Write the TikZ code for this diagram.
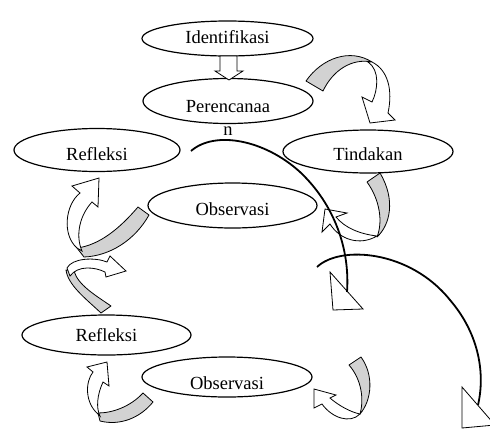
\documentclass[tikz,border=0pt]{standalone}
\usepackage{fontspec}
\setmainfont{Liberation Serif}
\usetikzlibrary{shapes.geometric}
\begin{document}
\begin{tikzpicture}[x=1pt,y=-1pt,
  ell/.style={draw,ellipse,line width=1.2pt,inner sep=0pt},
  tb/.style={text height=#1,text depth=0pt},
  every node/.style={font=\fontsize{18.5}{22}\selectfont},
  greyband/.style={draw,fill=gray!35,line width=0.8pt,line join=round},
  whiteband/.style={draw,fill=white,line width=0.8pt,line join=miter},
  arcline/.style={line width=1.8pt},
  tri/.style={draw,line width=0.8pt,line join=miter}]
\clip (0,0) rectangle (490,429);

% ellipses
\node[ell,minimum width=171pt,minimum height=35pt,tb=9.6pt] (id) at (227.5,38.5) {Identifikasi};
\node[ell,minimum width=170pt,minimum height=45pt,tb=22pt] (pr) at (228,101) {Perencanaa};
\node[anchor=base,inner sep=0pt] (prn) at (228,135) {n};
\node[ell,minimum width=166pt,minimum height=43pt,tb=20pt] (rf1) at (97,150) {Refleksi};
\node[ell,minimum width=170pt,minimum height=43pt,tb=17pt] (td) at (368,151.5) {Tindakan};
\node[ell,minimum width=169pt,minimum height=45pt,tb=19pt] (ob1) at (232.5,205.5) {Observasi};
\node[ell,minimum width=169pt,minimum height=40pt,tb=13.4pt] (rf2) at (106.5,335) {Refleksi};
\node[ell,minimum width=170pt,minimum height=40pt,tb=24pt] (ob2) at (227,377) {Observasi};

% hollow block arrow Identifikasi -> Perencanaa
\draw[whiteband] (220,56) -- (237,56) -- (237,71) -- (243,71) -- (229,80) -- (215,71) -- (220,71) -- cycle;

% A: Perencanaa -> Tindakan
\draw[greyband] (306,81) .. controls (322,58) and (350,48) .. (372,62)
  .. controls (352,58) and (333,70) .. (323,91) -- cycle;
\draw[whiteband] (368,62) .. controls (380,70) and (378,90) .. (372,102)
  -- (362,97) -- (370,123) -- (395,120) -- (388,113)
  .. controls (393,90) and (388,70) .. (372,62) -- cycle;

% B: Tindakan -> Observasi
\draw[greyband] (367,182) .. controls (380,200) and (383,222) .. (377,237)
  .. controls (390,225) and (396,200) .. (380,173) -- cycle;
\draw[whiteband] (377,236) .. controls (360,234) and (345,228) .. (336,217)
  -- (347,213) -- (325,209) -- (322,232) -- (330,224)
  .. controls (340,240) and (360,246) .. (377,236) -- cycle;

% C: Observasi -> Refleksi (top)
\draw[greyband] (138,207) .. controls (120,228) and (100,245) .. (77,248)
  -- (84,257) .. controls (110,256) and (135,240) .. (149,215) -- cycle;
\draw[whiteband] (77,248) .. controls (62,235) and (65,205) .. (80,193)
  -- (72,186) -- (99,178) -- (98,207) -- (92,202)
  .. controls (80,215) and (75,235) .. (82,251) -- cycle;

% D: lower ribbon pointing right
\draw[greyband] (66,270) .. controls (68,285) and (85,298) .. (101,313)
  -- (111,306) .. controls (95,295) and (78,285) .. (74,271) -- cycle;
\draw[whiteband] (67,268) .. controls (72,258) and (95,257) .. (107,262)
  -- (110,256) -- (126,271) -- (106,277) -- (105,272)
  .. controls (95,267) and (78,265) .. (70,276) -- cycle;

% E: Observasi (bottom) -> Refleksi (bottom)
\draw[greyband] (143,393) .. controls (130,407) and (112,413) .. (98,413)
  -- (100,421) .. controls (120,426) and (140,418) .. (153,402) -- cycle;
\draw[whiteband] (98,414) .. controls (85,403) and (85,382) .. (93,372)
  -- (87,367) -- (107,362) -- (109,386) -- (103,382)
  .. controls (97,395) and (96,408) .. (100,416) -- cycle;

% F: bottom right -> Observasi (bottom)
\draw[greyband] (349,365) .. controls (362,380) and (364,400) .. (360,414)
  .. controls (372,400) and (374,375) .. (361,357) -- cycle;
\draw[whiteband] (360,414) .. controls (350,412) and (338,405) .. (330,398)
  -- (336,395) -- (314,389) -- (314,408) -- (322,404)
  .. controls (332,418) and (350,424) .. (360,414) -- cycle;

% big arcs with triangular heads
\coordinate (a1s) at (191,151);
\coordinate (a1e) at (347,292);
\draw[arcline] (a1s) .. controls (215,130) and (265,140) .. (300,172)
  .. controls (335,205) and (350,250) .. (a1e);
\draw[tri] (330,272) -- (333,310) -- (363,309) -- cycle;

\coordinate (a2s) at (317,267);
\coordinate (a2e) at (478,405);
\draw[arcline] (a2s) .. controls (340,245) and (410,250) .. (450,300)
  .. controls (480,335) and (485,375) .. (a2e);
\draw[tri] (462,387) -- (462,428) -- (495,425) -- cycle;
\end{tikzpicture}
\end{document}
